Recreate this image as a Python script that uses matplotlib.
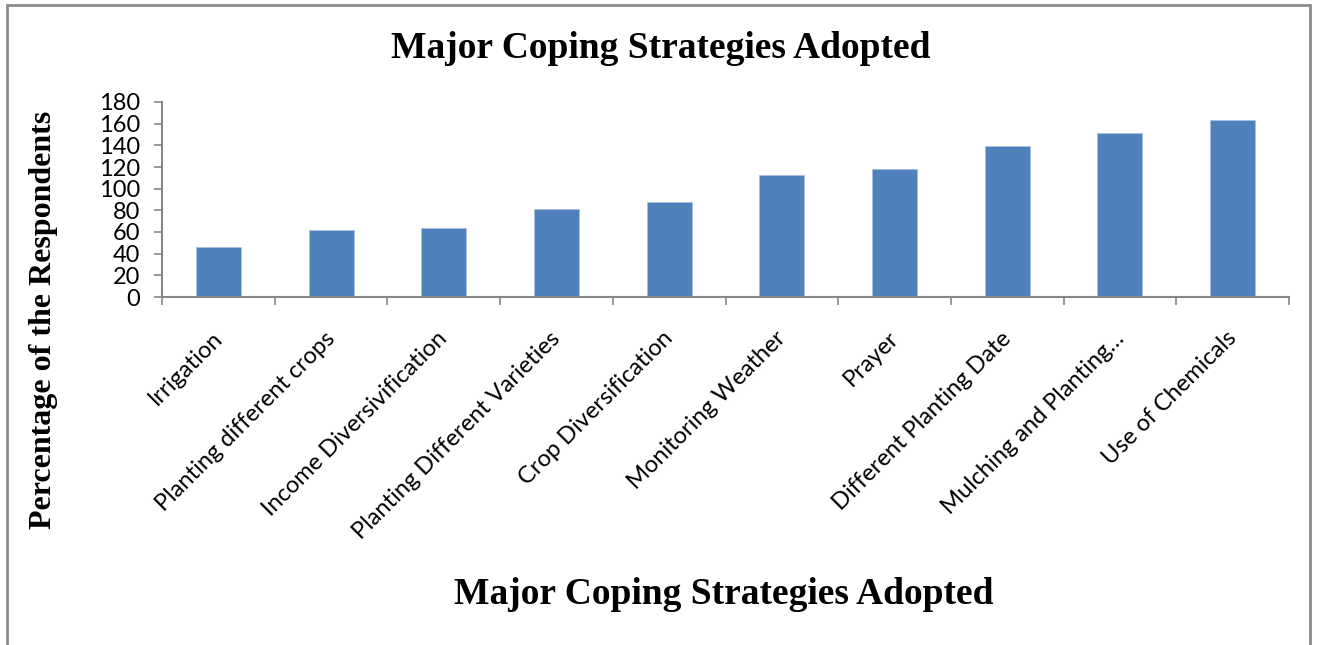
import matplotlib.pyplot as plt
from matplotlib.patches import Rectangle
from matplotlib.transforms import ScaledTranslation

strategies = [
    "Irrigation",
    "Planting different crops",
    "Income Diversivification",
    "Planting Different Varieties",
    "Crop Diversification",
    "Monitoring Weather",
    "Prayer",
    "Different Planting Date",
    "Mulching and Planting\u2026",
    "Use of Chemicals",
]
respondents = [46, 62, 64, 81, 88, 113, 118, 139, 151, 163]
yticks = list(range(0, 181, 20))

W, H = 1317, 645
fig = plt.figure(figsize=(W / 100, H / 100), dpi=100)
fig.patch.set_facecolor("white")

# outer frame of the chart area
fig.add_artist(Rectangle((7 / W, -0.02), 1303 / W, 1.02 - 5 / H,
                         transform=fig.transFigure, fill=False,
                         edgecolor="#8c8c8c", linewidth=2))

ax = fig.add_axes([162 / W, 1 - 297 / H, (1289 - 162) / W, (297 - 102) / H])

x = list(range(len(strategies)))
ax.bar(x, respondents, width=0.4, color="#4f81bd", edgecolor="#a9c0e0",
       linewidth=0.6, zorder=2)

ax.set_xlim(-0.5, len(strategies) - 0.5)
ax.set_ylim(0, 180)
ax.set_yticks(yticks)

ax.set_xticks([i - 0.5 for i in range(len(strategies) + 1)])
ax.set_xticklabels([])
ax.set_xticks(x, minor=True)
ax.set_xticklabels(strategies, minor=True, rotation=45, ha="right",
                   va="top", rotation_mode="anchor",
                   fontfamily="Lato", fontsize=17)
ax.tick_params(axis="x", which="minor", length=0, pad=22)
ax.tick_params(axis="x", which="major", length=6, width=1.2,
               color="#868686", direction="out")
ax.tick_params(axis="y", length=6, width=1.2, color="#868686",
               direction="out", pad=10, labelsize=17)
for lab in ax.get_yticklabels():
    lab.set_fontfamily("Lato")
for lab in ax.get_xticklabels(minor=True):
    lab.set_transform(lab.get_transform() +
                      ScaledTranslation(-0.07, 0, fig.dpi_scale_trans))

for side in ("top", "right"):
    ax.spines[side].set_visible(False)
for side in ("left", "bottom"):
    ax.spines[side].set_color("#868686")
    ax.spines[side].set_linewidth(1.5)

heading = dict(family="Liberation Serif", weight="bold", fontsize=27,
               color="black")
fig.text(661 / W, 1 - 48 / H, "Major Coping Strategies Adopted",
         ha="center", va="center", **heading)
fig.text(724 / W, 1 - 595 / H, "Major Coping Strategies Adopted",
         ha="center", va="center", **heading)
fig.text(44 / W, 1 - 320 / H, "Percentage of the Respondents",
         ha="center", va="center", rotation=90,
         **{**heading, "fontsize": 23})

fig.savefig("out.png", dpi=100)
